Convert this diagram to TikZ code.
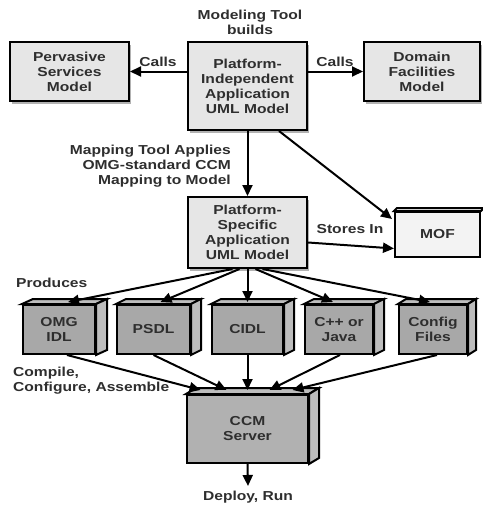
\documentclass[tikz,border=0pt]{standalone}
\usepackage{fontspec}
\setmainfont{Liberation Sans}[FakeStretch=1.2]
\usetikzlibrary{arrows.meta,calc,shadows}
\definecolor{ink}{HTML}{2E2E2E}
\definecolor{paleface}{HTML}{E6E6E6}
\definecolor{mofface}{HTML}{F3F3F3}
\definecolor{darkface}{HTML}{A8A8A8}
\definecolor{darkside}{HTML}{BDBDBD}
% oblique top and right faces of a cuboid-looking node
\newcommand\drawdepth[3]{%
  \draw[edge,fill=darkside] (#1.north west) -- ++(#2,-#3) -- ($(#1.north east)+(#2,-#3)$) -- (#1.north east) -- cycle;
  \draw[edge,fill=darkside] (#1.north east) -- ++(#2,-#3) -- ($(#1.south east)+(#2,-#3)$) -- (#1.south east) -- cycle;
}
\begin{document}
\begin{tikzpicture}[x=1pt,y=-1pt,
  txt/.style={text=ink,font=\bfseries\fontsize{13}{15}\selectfont,align=center,inner sep=0pt},
  edge/.style={draw=black,line width=2pt,line join=miter},
  flatbox/.style={txt,edge,fill=paleface,
    drop shadow={shadow xshift=2pt,shadow yshift=-3pt,fill=black,opacity=0.3}},
  solidbox/.style={txt,edge,fill=darkface},
  conn/.style={line width=2pt,draw=black},
  arr/.style={conn,-{Triangle[length=11pt,width=10pt]}}]
\useasboundingbox (0,0) rectangle (482,506);
\fill[white] (0,0) rectangle (482,506);

% top row
\node[flatbox,minimum width=119,minimum height=59] (perv) at (69.5,71.5) {Pervasive\\Services\\Model};
\node[flatbox,minimum width=119,minimum height=88] (pim) at (247.5,86) {Platform-\\Independent\\Application\\UML Model};
\node[flatbox,minimum width=116,minimum height=59] (dom) at (422,71.5) {Domain\\Facilities\\Model};

% platform-specific model and repository
\node[flatbox,minimum width=119,minimum height=71] (psm) at (247.5,232.5) {Platform-\\Specific\\Application\\UML Model};
\node[txt,edge,fill=mofface,minimum width=85,minimum height=45] (mof) at (437.5,234.5) {MOF};
\draw[edge,fill=mofface] (mof.north west) -- ++(3,-3) -- ($(mof.north east)+(3,-3)$) -- (mof.north east) -- cycle;

% generated artefacts
\node[solidbox,minimum width=72,minimum height=49] (omg) at (59,329.5) {OMG\\IDL};
\node[solidbox,minimum width=73,minimum height=49] (psdl) at (153.5,329.5) {PSDL};
\node[solidbox,minimum width=71,minimum height=49] (cidl) at (247.5,329.5) {CIDL};
\node[solidbox,minimum width=68,minimum height=49] (cpp) at (339,329.5) {C++ or\\Java};
\node[solidbox,minimum width=68,minimum height=49] (cfg) at (433,329.5) {Config\\Files};
\drawdepth{omg}{11}{5}
\drawdepth{psdl}{10}{5}
\drawdepth{cidl}{10}{5}
\drawdepth{cpp}{10}{5}
\drawdepth{cfg}{8}{5}

% server
\node[solidbox,fill=darkface!90!white,minimum width=121,minimum height=68] (ccm) at (247.5,429) {CCM\\Server};
\drawdepth{ccm}{10}{6}

% labels
\node[txt] (build) at (250,22) {Modeling Tool\\builds};
\node[txt] (callsl) at (158,62) {Calls};
\node[txt] (callsr) at (335,62) {Calls};
\node[txt,anchor=east,align=right] (maplbl) at (231,166) {Mapping Tool Applies\\OMG-standard CCM\\Mapping to Model};
\node[txt] (stores) at (350,229) {Stores In};
\node[txt,anchor=west] (prod) at (16,283) {Produces};
\node[txt,anchor=west,align=left] (comp) at (13,381) {Compile,\\Configure, Assemble};
\node[txt] (deploy) at (248,497) {Deploy, Run};

% connectors
\draw[arr] (pim.west |- perv.east) -- (perv.east);
\draw[arr] (pim.east |- dom.west) -- (dom.west);
\draw[arr] (pim.south) -- (psm.north);
\draw[arr] ($(pim.south east)+(-29,0)$) -- ($(mof.north west)+(-2,8)$);
\draw[arr] ($(psm.east)+(0,10)$) -- ($(mof.west)+(0,14)$);

\draw[arr] ($(psm.south)+(-15,0)$) -- ($(omg.north)+(9,-2)$);
\draw[arr] ($(psm.south)+(-8,0)$) -- ($(psdl.north)+(7,-2)$);
\draw[arr] (psm.south) -- ($(cidl.north)+(0,-2)$);
\draw[arr] ($(psm.south)+(8,0)$) -- ($(cpp.north)+(-6,-2)$);
\draw[arr] ($(psm.south)+(15,0)$) -- ($(cfg.north)+(-3,-2)$);

\draw[arr] ($(omg.south)+(8,0)$) -- ($(ccm.north)+(-47,-4)$);
\draw[arr] (psdl.south) -- ($(ccm.north)+(-21,-4)$);
\draw[arr] (cidl.south) -- ($(ccm.north)+(0,-4)$);
\draw[arr] ($(cpp.south)+(1,0)$) -- ($(ccm.north)+(22,-4)$);
\draw[arr] ($(cfg.south)+(4,0)$) -- ($(ccm.north)+(45,-4)$);

\coordinate (runend) at (248,486);
\draw[arr] (ccm.south) -- (runend);
\end{tikzpicture}
\end{document}
